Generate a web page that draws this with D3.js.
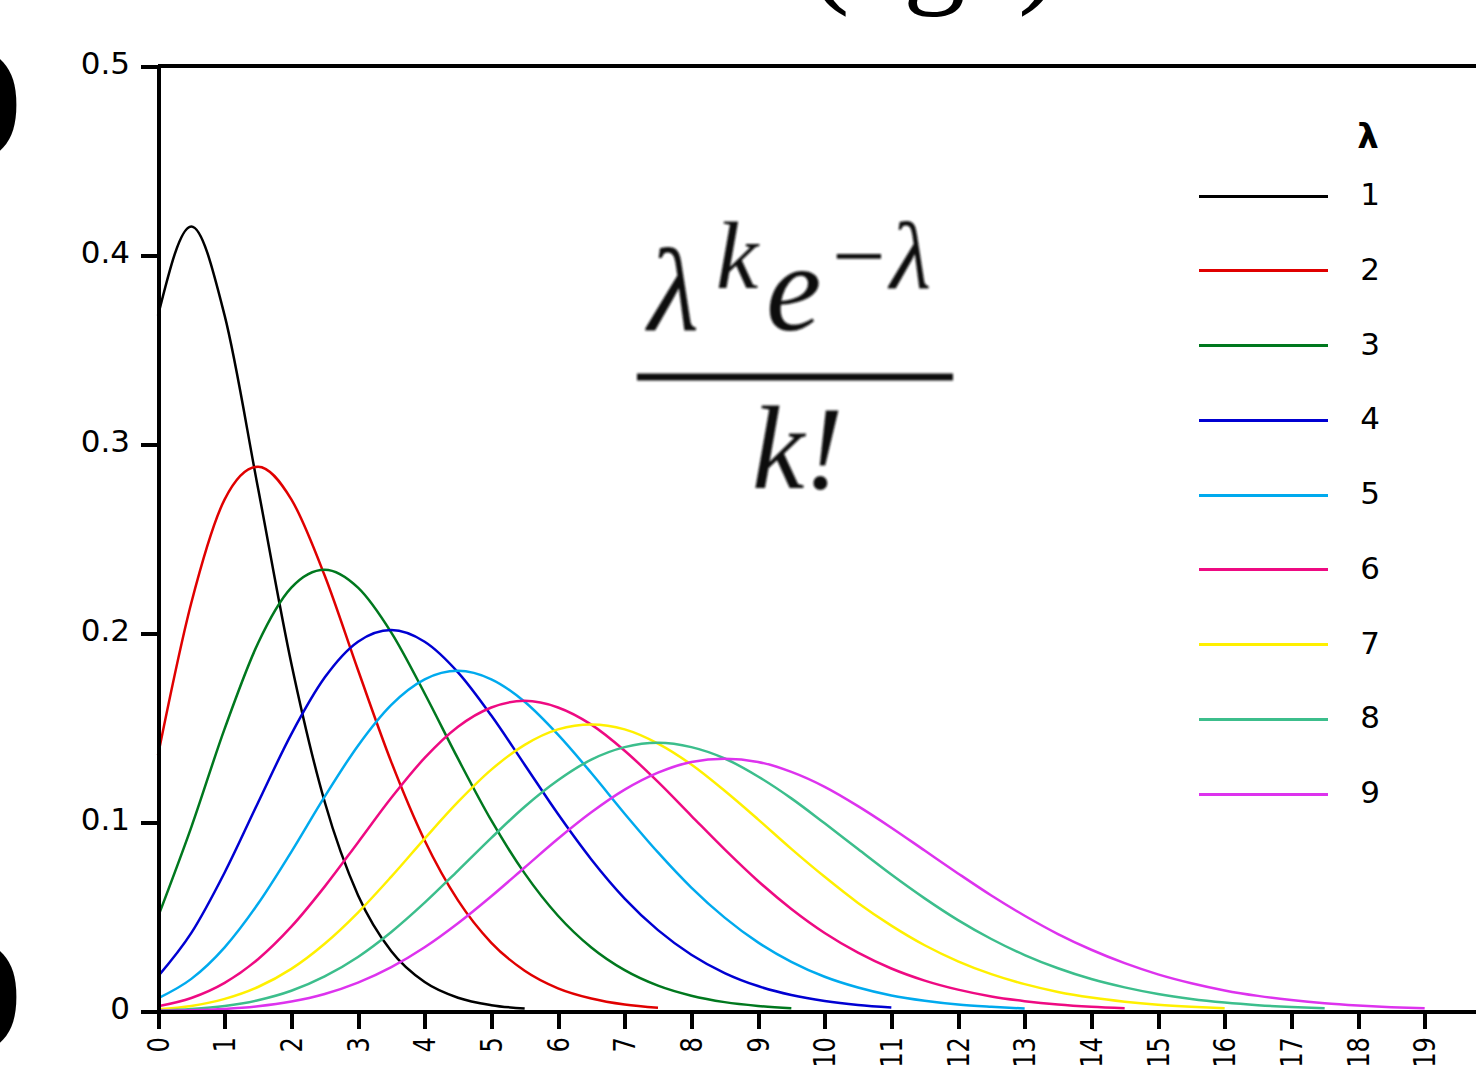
<!DOCTYPE html>
<html>
<head>
<meta charset="utf-8">
<script src="https://cdn.jsdelivr.net/npm/d3@7"></script>
<style>
  body { margin: 0; background: #fff; }
  svg { display: block; }
</style>
</head>
<body>
<svg id="chart"></svg>
<script>
// lambda values and the k positions the curves were sampled at
const lambdas = [1, 2, 3, 4, 5, 6, 7, 8, 9];
const kValues = [0, 0.5, 1, 1.5, 2, 2.5, 3, 3.5, 4, 4.5, 5, 5.5, 6, 6.5, 7, 7.5, 8, 8.5, 9, 9.5,
  10, 10.5, 11, 11.5, 12, 12.5, 13, 13.5, 14, 14.5, 15, 15.5, 16, 16.5, 17, 17.5, 18, 18.5, 19];

// values, one array per lambda
const p1 = [.3679, .4151, .3679, .2767, .1839, .1107, .0613, .0316, .0153, .0070, .0031, .0013];
const p2 = [.1353, .2160, .2707, .2880, .2707, .2304, .1804, .1317, .0902, .0585, .0361, .0213,
  .0120, .0066, .0034, .0017];
const p3 = [.0498, .0973, .1494, .1946, .2240, .2335, .2240, .2002, .1680, .1335, .1008, .0728,
  .0504, .0336, .0216, .0134, .0081, .0047, .0027, .0015];
const p4 = [.0183, .0413, .0733, .1102, .1465, .1764, .1954, .2016, .1954, .1792, .1563, .1303,
  .1042, .0802, .0595, .0428, .0298, .0201, .0132, .0085, .0053, .0032, .0019];
const p5 = [.0067, .0170, .0337, .0567, .0842, .1134, .1404, .1620, .1755, .1800, .1755, .1636,
  .1462, .1259, .1044, .0839, .0653, .0494, .0363, .0260, .0181, .0124, .0082, .0054, .0034,
  .0022, .0013];
const p6 = [.0025, .0069, .0149, .0274, .0446, .0658, .0892, .1128, .1339, .1504, .1606, .1641,
  .1606, .1515, .1377, .1212, .1033, .0855, .0688, .0540, .0413, .0309, .0225, .0161, .0113,
  .0077, .0052, .0034, .0022, .0014];
const p7 = [.0009, .0027, .0064, .0127, .0223, .0356, .0521, .0711, .0912, .1106, .1277, .1408,
  .1490, .1516, .1490, .1415, .1304, .1165, .1014, .0858, .0710, .0572, .0452, .0348, .0263,
  .0195, .0142, .0101, .0071, .0049, .0033, .0022, .0014];
const p8 = [.0003, .0011, .0027, .0057, .0107, .0183, .0286, .0418, .0573, .0743, .0916, .1081,
  .1221, .1330, .1396, .1419, .1396, .1336, .1241, .1125, .0993, .0857, .0722, .0596, .0481,
  .0381, .0296, .0226, .0169, .0125, .0090, .0064, .0045, .0031, .0021, .0014];
const p9 = [.0001, .0004, .0011, .0025, .0050, .0090, .0150, .0232, .0337, .0464, .0607, .0759,
  .0911, .1051, .1171, .1261, .1318, .1335, .1318, .1265, .1186, .1084, .0970, .0849, .0728,
  .0611, .0504, .0407, .0324, .0253, .0194, .0147, .0109, .0080, .0058, .0041, .0029, .0020,
  .0014];

const xTicks = [0, 1, 2, 3, 4, 5, 6, 7, 8, 9, 10, 11, 12, 13, 14, 15, 16, 17, 18, 19];
const yTicks = [0, 0.1, 0.2, 0.3, 0.4, 0.5];

const lineColors = ['#000000', '#e00000', '#00781e', '#0000d2', '#00aaee',
  '#ee0a82', '#fff000', '#3cbe8c', '#dd33ee'];

(() => {
  const svgWidth = 1476;
  const svgHeight = 1070;
  const font = '"DejaVu Sans", sans-serif';
  const serif = '"Liberation Serif", "DejaVu Serif", serif';

  const svg = d3.select('#chart')
    .attr('width', svgWidth)
    .attr('height', svgHeight);

  const xScale = d3.scaleLinear().domain([0, 19.77]).range([158, 1476]);
  const yScale = d3.scaleLinear().domain([0, 0.5]).range([1011, 66]);

  const seriesValues = [p1, p2, p3, p4, p5, p6, p7, p8, p9];

  // cut-off bits of the surrounding figure
  svg.append('text')
    .attr('x', 22).attr('y', 135)
    .attr('text-anchor', 'end')
    .attr('font-family', serif).attr('font-size', 125).attr('font-weight', 'bold')
    .text(')');
  svg.append('text')
    .attr('x', 22).attr('y', 1027)
    .attr('text-anchor', 'end')
    .attr('font-family', serif).attr('font-size', 125).attr('font-weight', 'bold')
    .text(')');
  const top = svg.append('text')
    .attr('y', -10)
    .attr('font-family', serif).attr('font-size', 125);
  top.append('tspan').attr('x', 808).text('(');
  top.append('tspan').attr('x', 903).text('g');
  top.append('tspan').attr('x', 1018).text(')');

  // curves
  const line = d3.line()
    .x((d, i) => xScale(kValues[i]))
    .y(d => yScale(d))
    .curve(d3.curveMonotoneX);

  svg.append('g')
    .selectAll('path')
    .data(seriesValues)
    .enter()
    .append('path')
    .attr('d', d => line(d))
    .attr('fill', 'none')
    .attr('stroke', (d, i) => lineColors[i])
    .attr('stroke-width', 2.5);

  // axes
  const xAxis = svg.append('g')
    .attr('transform', `translate(0,${yScale(0)})`)
    .call(d3.axisBottom(xScale).tickValues(xTicks).tickSize(18).tickSizeOuter(0));

  // rotated, slightly narrowed labels like the pixel font of the original
  xAxis.selectAll('text')
    .attr('transform', 'rotate(-90) scale(0.78,1)')
    .attr('x', -26 / 0.78)
    .attr('y', 10)
    .attr('dy', null)
    .attr('text-anchor', 'end');

  const yAxis = svg.append('g')
    .attr('transform', `translate(${xScale(0)},0)`)
    .call(d3.axisLeft(yScale).tickValues(yTicks).tickSize(17).tickSizeOuter(0).tickPadding(11)
      .tickFormat(d => d === 0 ? '0' : d3.format('.1f')(d)));

  yAxis.selectAll('text').attr('dy', '0.23em');

  [xAxis, yAxis].forEach(axis => {
    axis.attr('font-family', font).attr('font-size', 31);
    axis.selectAll('text').attr('fill', '#000');
    axis.selectAll('line, path')
      .attr('stroke', '#000')
      .attr('stroke-width', 4)
      .attr('shape-rendering', 'crispEdges');
  });

  svg.append('line')
    .attr('x1', xScale(0)).attr('x2', svgWidth)
    .attr('y1', yScale(0.5)).attr('y2', yScale(0.5))
    .attr('stroke', '#000')
    .attr('stroke-width', 4)
    .attr('shape-rendering', 'crispEdges');

  // legend
  const legendY = d3.scaleLinear().domain([1, 9]).range([196, 794]);

  svg.append('text')
    .attr('x', 1368).attr('y', 148)
    .attr('text-anchor', 'middle')
    .attr('font-family', font).attr('font-size', 34).attr('font-weight', 'bold')
    .text('λ');

  const legend = svg.append('g')
    .selectAll('g')
    .data(lambdas)
    .enter()
    .append('g')
    .attr('transform', d => `translate(0,${legendY(d)})`);

  legend.append('line')
    .attr('x1', 1199).attr('x2', 1328)
    .attr('stroke', (d, i) => lineColors[i])
    .attr('stroke-width', 3)
    .attr('shape-rendering', 'crispEdges');

  legend.append('text')
    .attr('x', 1370).attr('y', 9)
    .attr('text-anchor', 'middle')
    .attr('font-family', font).attr('font-size', 31)
    .text(d => d);

  // formula
  svg.append('defs').append('filter')
    .attr('id', 'soft')
    .append('feGaussianBlur')
    .attr('stdDeviation', 0.9);

  const formula = svg.append('g')
    .attr('filter', 'url(#soft)')
    .attr('fill', '#111')
    .attr('font-family', serif)
    .attr('font-style', 'italic');

  formula.append('text').attr('x', 648).attr('y', 330).attr('font-size', 118).text('λ');
  formula.append('text').attr('x', 716).attr('y', 288).attr('font-size', 95).text('k');
  formula.append('text').attr('x', 766).attr('y', 330).attr('font-size', 125).text('e');
  formula.append('text').attr('x', 826).attr('y', 288).attr('font-size', 95).text('−λ');
  formula.append('line')
    .attr('x1', 637).attr('x2', 953)
    .attr('y1', 377).attr('y2', 377)
    .attr('stroke', '#111').attr('stroke-width', 7);
  formula.append('text').attr('x', 752).attr('y', 488).attr('font-size', 118).text('k!');
})();
</script>
</body>
</html>
